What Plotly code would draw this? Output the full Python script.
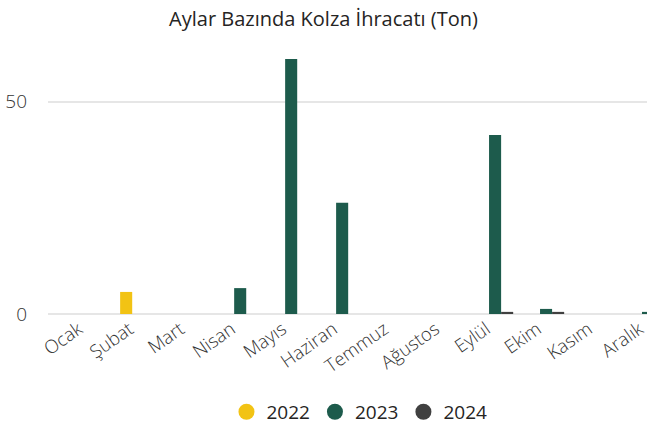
import plotly.graph_objects as go

months = ["Ocak", "Şubat", "Mart", "Nisan", "Mayıs", "Haziran", "Temmuz",
          "Ağustos", "Eylül", "Ekim", "Kasım", "Aralık"]
years = ["2022", "2023", "2024"]
v2022 = [0, 5.2, 0, 0, 0, 0, 0, 0, 0, 0, 0, 0]
v2023 = [0, 0, 0, 6.1, 60.1, 26.2, 0, 0, 42.2, 1.2, 0, 0.5]
v2024 = [0, 0, 0, 0, 0, 0, 0, 0, 0.5, 0.5, 0, 0]
colors = ["#F2C314", "#1D5B4C", "#404040"]
series = [v2022, v2023, v2024]

xpos = list(range(len(months)))
label_offset = -0.17  # labels sit slightly left of the group centre

fig = go.Figure()
for name, vals, c in zip(years, series, colors):
    fig.add_trace(go.Bar(x=xpos, y=vals, name=name,
                         marker=dict(color=c, line=dict(width=0)),
                         showlegend=False))
for name, c in zip(years, colors):
    fig.add_trace(go.Scatter(x=[None], y=[None], mode="markers", name=name,
                             marker=dict(color=c, size=20, symbol="circle")))

fig.update_layout(
    width=647, height=426,
    margin=dict(l=48, r=0, t=53, b=112, autoexpand=False),
    paper_bgcolor="white", plot_bgcolor="white",
    font=dict(family="Open Sans, Noto Sans, sans-serif", color="#252423"),
    title=dict(text="Aylar Bazında Kolza İhracatı (Ton)", x=0.5, xanchor="center",
               y=0.955, yanchor="middle", font=dict(size=20, color="#252423")),
    barmode="group", bargap=0.29, bargroupgap=0,
    xaxis=dict(tickmode="array", tickvals=[p + label_offset for p in xpos],
               ticktext=months, range=[-0.77, 10.98], tickangle=-35,
               showgrid=False, zeroline=False, showline=False, ticks="",
               automargin=False, ticklabeloverflow="allow",
               tickfont=dict(size=18.5, color="#333333", weight=300)),
    yaxis=dict(range=[0, 61.5], tickvals=[0, 50], showgrid=True, gridcolor="#E6E6E6",
               gridwidth=1.5, zeroline=True, zerolinecolor="#E6E6E6", zerolinewidth=1.5,
               showline=False, ticks="", ticklabelstandoff=20, automargin=False,
               tickfont=dict(size=19, color="#333333", weight=300)),
    legend=dict(orientation="h", x=0.52, xanchor="center", y=-0.375, yanchor="middle",
                font=dict(size=19, color="#252423"), itemsizing="trace",
                itemwidth=30, tracegroupgap=0),
)

fig.write_html("out.html", config={"displayModeBar": False},
               post_script="document.body.style.margin='0px';document.body.style.overflow='hidden';")
